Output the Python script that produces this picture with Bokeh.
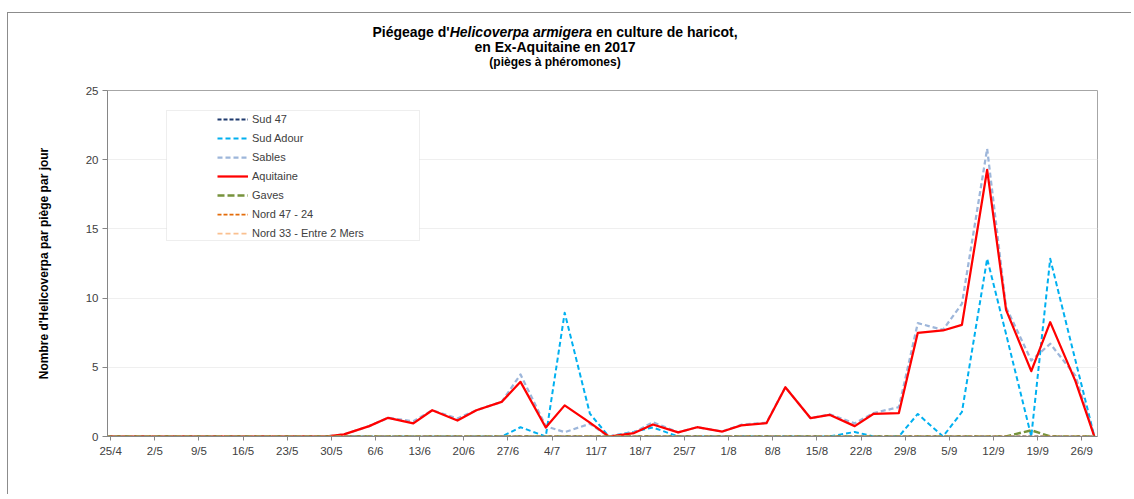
import pandas as pd
from bokeh.plotting import figure
from bokeh.layouts import column
from bokeh.models import (FixedTicker, DatetimeTickFormatter, Legend, LegendItem,
                          BoxAnnotation, Range1d, Div)
from bokeh.embed import file_html
from bokeh.resources import INLINE

# ---------------- data ----------------
dates = ["2017-04-24", "2017-04-27", "2017-05-01", "2017-05-04", "2017-05-08", "2017-05-11",
         "2017-05-15", "2017-05-18", "2017-05-22", "2017-05-25", "2017-05-29", "2017-06-01",
         "2017-06-05", "2017-06-08", "2017-06-12", "2017-06-15", "2017-06-19", "2017-06-22",
         "2017-06-26", "2017-06-29", "2017-07-03", "2017-07-06", "2017-07-10", "2017-07-13",
         "2017-07-17", "2017-07-20", "2017-07-24", "2017-07-27", "2017-07-31", "2017-08-03",
         "2017-08-07", "2017-08-10", "2017-08-14", "2017-08-17", "2017-08-21", "2017-08-24",
         "2017-08-28", "2017-08-31", "2017-09-04", "2017-09-07", "2017-09-11", "2017-09-14",
         "2017-09-18", "2017-09-21", "2017-09-25", "2017-09-28"]

sud_47 = [0, 0, 0, 0, 0, 0, 0, 0, 0, 0, 0, 0, 0, 0, 0, 0, 0, 0, 0, 0, 0, 0, 0,
          0, 0, 0, 0, 0, 0, 0, 0, 0, 0, 0, 0, 0, 0, 0, 0, 0, 0, 0, 0, 0, 0, 0]
sud_adour = [0, 0, 0, 0, 0, 0, 0, 0, 0, 0, 0, 0, 0, 0, 0, 0, 0, 0, 0,
             0.67, 0, 8.94, 1.65, 0, 0.35, 0.65, 0, 0, 0, 0, 0, 0, 0, 0,
             0.33, 0, 0, 1.63, 0, 1.77, 12.84, 7.4, 0, 12.84, 5.5, 0]
sables = [0, 0, 0, 0, 0, 0, 0, 0, 0, 0, 0,
          0.15, 0.75, 1.35, 1.1, 1.9, 1.3, 1.9, 2.5, 4.48, 0.75, 0.31, 0.92, 0,
          0.3, 1.03, 0.3, 0.67, 0.36, 0.85, 1.0, 3.56, 1.32, 1.6, 0.95, 1.7, 2.12,
          8.19, 7.71, 9.59, 20.79, 9.34, 5.49, 6.7, 4.4, 0]
aquitaine = [0, 0, 0, 0, 0, 0, 0, 0, 0, 0, 0,
             0.15, 0.75, 1.35, 0.95, 1.9, 1.15, 1.9, 2.5, 3.95, 0.65, 2.25, 1.0, 0,
             0.25, 0.87, 0.3, 0.67, 0.36, 0.8, 0.96, 3.56, 1.32, 1.57, 0.75, 1.64, 1.69,
             7.49, 7.66, 8.07, 19.27, 9.15, 4.72, 8.26, 4.0, 0]
gaves = [0, 0, 0, 0, 0, 0, 0, 0, 0, 0, 0, 0, 0, 0, 0, 0, 0, 0, 0, 0, 0, 0, 0,
         0, 0, 0, 0, 0, 0, 0, 0, 0, 0, 0, 0, 0, 0, 0, 0, 0, 0, 0, 0.45, 0, 0, 0]
nord_47_24 = [0, 0, 0, 0, 0, 0, 0, 0, 0, 0, 0, 0, 0, 0, 0, 0, 0, 0, 0, 0, 0, 0, 0,
              0, 0, 0, 0, 0, 0, 0, 0, 0, 0, 0, 0, 0, 0, 0, 0, 0, 0, 0, 0, 0, 0, 0]
nord_33 = [0, 0, 0, 0, 0, 0, 0, 0, 0, 0, 0, 0, 0, 0, 0, 0, 0, 0, 0, 0, 0, 0, 0,
           0, 0, 0, 0, 0, 0, 0, 0, 0, 0, 0, 0, 0, 0, 0, 0, 0, 0, 0, 0, 0, 0, 0]

series_names = ["Sud 47", "Sud Adour", "Sables", "Aquitaine", "Gaves",
                "Nord 47 - 24", "Nord 33 - Entre 2 Mers"]

tick_dates = ["2017-04-25", "2017-05-02", "2017-05-09", "2017-05-16", "2017-05-23",
              "2017-05-30", "2017-06-06", "2017-06-13", "2017-06-20", "2017-06-27",
              "2017-07-04", "2017-07-11", "2017-07-18", "2017-07-25", "2017-08-01",
              "2017-08-08", "2017-08-15", "2017-08-22", "2017-08-29", "2017-09-05",
              "2017-09-12", "2017-09-19", "2017-09-26"]
y_ticks = [0, 5, 10, 15, 20, 25]

title_before = "Piégeage d'"
title_italic = "Helicoverpa armigera"
title_after = " en culture de haricot,"
title_line2 = "en Ex-Aquitaine en 2017"
title_line3 = "(pièges à phéromones)"
y_title = "Nombre d'Helicoverpa par piège par jour"

# ---------------- styling ----------------
FONT = "Liberation Sans"
TXT = "#404040"
styles = [
    dict(color="#1F3A6E", dash="4 2", width=2.0),
    dict(color="#00B0F0", dash="5 3", width=2.0),
    dict(color="#9DB6DA", dash="5 3", width=2.25),
    dict(color="#FF0000", dash="solid", width=2.25),
    dict(color="#77933C", dash="7 3", width=2.5),
    dict(color="#E46C0A", dash="4 2", width=1.75),
    dict(color="#FAC08F", dash="5 3", width=1.75),
]
values = [sud_47, sud_adour, sables, aquitaine, gaves, nord_47_24, nord_33]

HALF_DAY = pd.Timedelta(hours=12)   # points / labels sit in the middle of each day slot
x = pd.to_datetime(pd.Series(dates)) + HALF_DAY

DIV_H = 72
p = figure(frame_width=990, frame_height=346,
           min_border_left=107, min_border_right=34, min_border_top=90 - DIV_H,
           min_border_bottom=58,
           x_axis_type="datetime",
           x_range=Range1d(start=pd.Timestamp("2017-04-25"), end=pd.Timestamp("2017-09-29")),
           y_range=Range1d(start=0, end=25),
           output_backend="svg", toolbar_location=None,
           background_fill_color="white", border_fill_alpha=0)

p.outline_line_color = "#A6A6A6"
p.outline_line_width = 1

renderers = []
for name, vals, st in zip(series_names, values, styles):
    r = p.line(x, vals, line_color=st["color"], line_width=st["width"],
               line_dash=st["dash"], line_join="round")
    renderers.append(r)

# axes
p.xaxis.ticker = FixedTicker(ticks=[(pd.Timestamp(d) + HALF_DAY).value / 1e6 for d in tick_dates])
fmt = "%-d/%-m"
p.xaxis.formatter = DatetimeTickFormatter(days=fmt, months=fmt, years=fmt, hours=fmt,
                                          hourmin=fmt, minutes=fmt, minsec=fmt,
                                          seconds=fmt, milliseconds=fmt, microseconds=fmt)
p.yaxis.ticker = FixedTicker(ticks=y_ticks)
for ax in (p.xaxis, p.yaxis):
    ax.axis_line_color = "#868686"
    ax.major_tick_line_color = "#868686"
    ax.major_tick_in = 0
    ax.minor_tick_line_color = None
    ax.major_label_text_font = FONT
    ax.major_label_text_font_size = "11.5px"
    ax.major_label_text_color = TXT
p.xaxis.major_tick_out = 4
p.xaxis.major_label_standoff = 4
p.yaxis.major_tick_out = 5
p.yaxis.major_label_standoff = 4

p.yaxis.axis_label = y_title
p.yaxis.axis_label_text_font = FONT
p.yaxis.axis_label_text_font_style = "bold"
p.yaxis.axis_label_text_font_size = "12px"
p.yaxis.axis_label_text_color = "black"
p.yaxis.axis_label_standoff = 32

p.xgrid.visible = False
p.ygrid.ticker = FixedTicker(ticks=y_ticks)
p.ygrid.grid_line_color = "#EFEFEF"
p.ygrid.grid_line_width = 1

# legend box
p.add_layout(BoxAnnotation(left=59, right=312, bottom=196, top=326,
                           left_units="screen", right_units="screen",
                           bottom_units="screen", top_units="screen",
                           fill_color="white", fill_alpha=1,
                           line_color="#8C8C8C", line_width=1, line_dash="1 1"))

legend = Legend(items=[LegendItem(label=n, renderers=[r]) for n, r in zip(series_names, renderers)],
                location=(110, 194), orientation="vertical",
                padding=0, margin=0, spacing=1,
                glyph_width=31, glyph_height=18, label_height=18, label_standoff=4,
                label_text_font=FONT, label_text_font_size="11px", label_text_color=TXT,
                border_line_alpha=0, background_fill_alpha=0)
p.add_layout(legend)

# title (mixed bold / bold italic) as real HTML text
title_html = (
    '<div style="width:1110px;padding-top:25px;text-align:center;'
    "font-family:'Liberation Sans',Arial,sans-serif;font-weight:bold;color:#000;\">"
    f'<div style="font-size:14px;line-height:15px;white-space:nowrap;">{title_before}'
    f'<i>{title_italic}</i>{title_after}</div>'
    f'<div style="font-size:14px;line-height:15px;">{title_line2}</div>'
    f'<div style="font-size:12px;line-height:15px;">{title_line3}</div>'
    '</div>'
)
title_div = Div(text=title_html, width=1131, height=DIV_H, margin=0)

border_css = ("linear-gradient(#8C8C8C,#8C8C8C) 7px 12px / 1px 100% no-repeat, "
              "linear-gradient(#8C8C8C,#8C8C8C) 7px 12px / 100% 1px no-repeat, #FFFFFF")
layout = column(title_div, p, spacing=0, styles={"background": border_css})

open("out.html", "w").write(file_html(layout, INLINE))
